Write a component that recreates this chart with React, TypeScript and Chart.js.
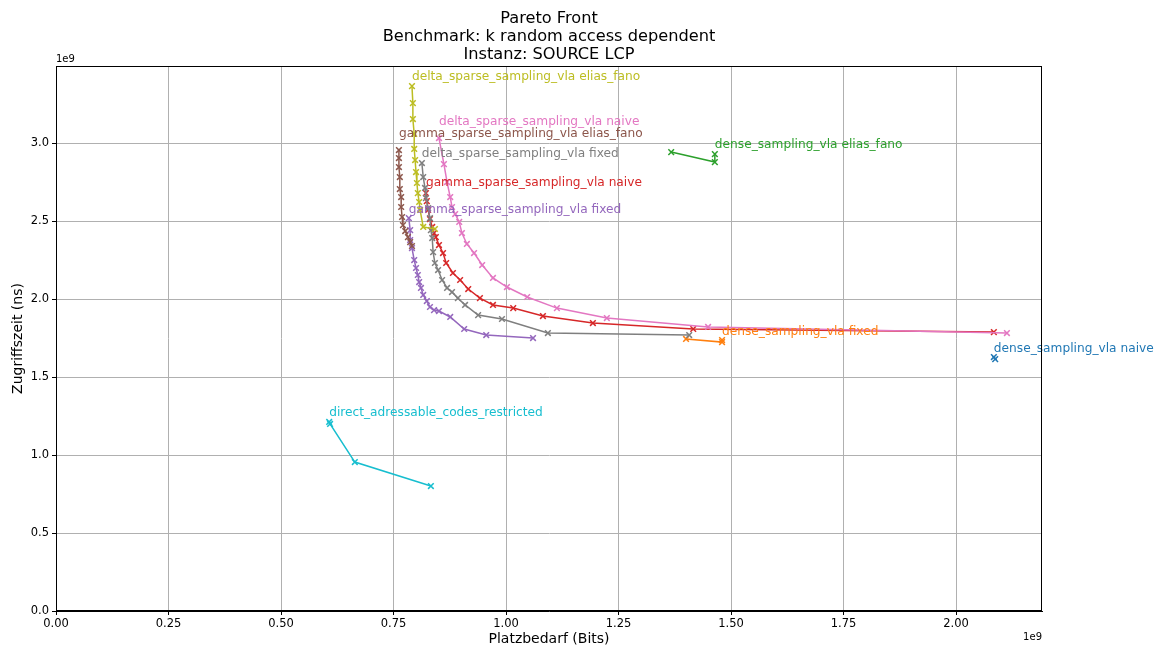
import React, { useEffect, useRef } from "react";
import { Chart, registerables } from "chart.js";

Chart.register(...registerables);

const FONT = "'DejaVu Sans', 'Liberation Sans', sans-serif";

// Series names (annotation labels) in plotting order
const seriesNames = [
  "dense_sampling_vla naive",
  "dense_sampling_vla fixed",
  "dense_sampling_vla elias_fano",
  "gamma_sparse_sampling_vla naive",
  "gamma_sparse_sampling_vla fixed",
  "gamma_sparse_sampling_vla elias_fano",
  "delta_sparse_sampling_vla naive",
  "delta_sparse_sampling_vla fixed",
  "delta_sparse_sampling_vla elias_fano",
  "direct_adressable_codes_restricted",
];

const seriesColors = [
  "#1f77b4", "#ff7f0e", "#2ca02c", "#d62728", "#9467bd",
  "#8c564b", "#e377c2", "#7f7f7f", "#bcbd22", "#17becf",
];

// Values in units of 1e9 (Platzbedarf in Bits, Zugriffszeit in ns)
const denseNaiveX = [2.084, 2.087];
const denseNaiveY = [1.628, 1.615];

const denseFixedX = [1.48, 1.48, 1.4];
const denseFixedY = [1.737, 1.724, 1.744];

const denseEliasX = [1.464, 1.464, 1.367];
const denseEliasY = [2.929, 2.878, 2.942];

const gammaNaiveX = [0.822, 0.824, 0.827, 0.831, 0.836, 0.84, 0.844, 0.851, 0.86, 0.867, 0.882, 0.898, 0.916, 0.942, 0.971, 1.016, 1.082, 1.193, 1.416, 2.084];
const gammaNaiveY = [2.679, 2.628, 2.571, 2.513, 2.462, 2.423, 2.397, 2.346, 2.295, 2.231, 2.167, 2.122, 2.064, 2.006, 1.962, 1.942, 1.891, 1.846, 1.808, 1.788];

const gammaFixedX = [0.784, 0.787, 0.787, 0.791, 0.796, 0.8, 0.804, 0.807, 0.811, 0.816, 0.824, 0.831, 0.84, 0.851, 0.876, 0.907, 0.956, 1.06];
const gammaFixedY = [2.519, 2.442, 2.378, 2.327, 2.25, 2.199, 2.154, 2.109, 2.071, 2.026, 1.987, 1.949, 1.929, 1.923, 1.885, 1.808, 1.769, 1.75];

const gammaEliasX = [0.762, 0.762, 0.762, 0.764, 0.764, 0.767, 0.767, 0.769, 0.771, 0.776, 0.782, 0.787, 0.791];
const gammaEliasY = [2.955, 2.904, 2.846, 2.782, 2.705, 2.654, 2.59, 2.526, 2.474, 2.436, 2.397, 2.365, 2.34];

const deltaNaiveX = [0.851, 0.862, 0.869, 0.876, 0.88, 0.887, 0.896, 0.902, 0.913, 0.929, 0.947, 0.971, 1.002, 1.047, 1.113, 1.224, 1.449, 2.113];
const deltaNaiveY = [3.032, 2.865, 2.75, 2.654, 2.59, 2.545, 2.494, 2.423, 2.353, 2.295, 2.218, 2.135, 2.077, 2.013, 1.942, 1.878, 1.821, 1.782];

const deltaFixedX = [0.813, 0.816, 0.82, 0.822, 0.827, 0.831, 0.833, 0.836, 0.838, 0.842, 0.849, 0.858, 0.869, 0.88, 0.893, 0.909, 0.938, 0.991, 1.093, 1.407];
const deltaFixedY = [2.872, 2.782, 2.712, 2.647, 2.583, 2.519, 2.442, 2.391, 2.301, 2.231, 2.186, 2.122, 2.071, 2.045, 2.006, 1.962, 1.897, 1.872, 1.782, 1.769];

const deltaEliasX = [0.791, 0.793, 0.793, 0.796, 0.796, 0.798, 0.8, 0.802, 0.804, 0.807, 0.809, 0.816, 0.842];
const deltaEliasY = [3.365, 3.256, 3.154, 3.058, 2.962, 2.891, 2.814, 2.744, 2.679, 2.622, 2.571, 2.462, 2.449];

const directX = [0.607, 0.609, 0.664, 0.833];
const directY = [1.212, 1.199, 0.955, 0.801];

const seriesX = [denseNaiveX, denseFixedX, denseEliasX, gammaNaiveX, gammaFixedX, gammaEliasX, deltaNaiveX, deltaFixedX, deltaEliasX, directX];
const seriesY = [denseNaiveY, denseFixedY, denseEliasY, gammaNaiveY, gammaFixedY, gammaEliasY, deltaNaiveY, deltaFixedY, deltaEliasY, directY];

const titleLines = ["Pareto Front", "Benchmark: k random access dependent", "Instanz: SOURCE LCP"];
const xTitle = "Platzbedarf (Bits)";
const yTitle = "Zugriffszeit (ns)";
const X_MAX = 2.191;
const Y_MAX = 3.494;

// pixel offsets of annotation baselines above their first point
const labelLift = [5, 5, 6, 7, 5, 13, 13, 6, 6, 6];

const overlayPlugin = {
  id: "overlay",
  afterDatasetsDraw(chart: any) {
    const ctx = chart.ctx;
    const area = chart.chartArea;
    ctx.save();
    // annotations
    ctx.font = `12.2px ${FONT}`;
    ctx.textAlign = "left";
    ctx.textBaseline = "alphabetic";
    chart.data.datasets.forEach((ds: any, i: number) => {
      const meta = chart.getDatasetMeta(i);
      const p = meta.data[0];
      if (!p) return;
      ctx.fillStyle = ds.borderColor;
      ctx.fillText(seriesNames[i], p.x, p.y - labelLift[i]);
    });
    // spines
    ctx.strokeStyle = "#000";
    ctx.lineWidth = 1;
    ctx.strokeRect(area.left + 0.5, area.top + 0.5, area.right - area.left - 1, area.bottom - area.top - 1);
    // title
    ctx.fillStyle = "#000";
    ctx.font = `16.2px ${FONT}`;
    ctx.textAlign = "center";
    ctx.textBaseline = "middle";
    const cx = (area.left + area.right) / 2;
    titleLines.forEach((t, k) => ctx.fillText(t, cx, 18.5 + k * 18));
    // offset texts
    ctx.font = `10px ${FONT}`;
    ctx.textAlign = "left";
    ctx.fillText("1e9", area.left, area.top - 6.5);
    ctx.textAlign = "right";
    ctx.fillText("1e9", area.right, area.bottom + 26);
    ctx.restore();
  },
};

export default function App() {
  const ref = useRef<HTMLCanvasElement | null>(null);
  useEffect(() => {
    if (!ref.current) return;
    const datasets = seriesNames.map((name, i) => ({
      label: name,
      data: seriesX[i].map((x, j) => ({ x, y: seriesY[i][j] })),
      showLine: true,
      borderColor: seriesColors[i],
      backgroundColor: seriesColors[i],
      pointBorderColor: seriesColors[i],
      borderWidth: 1.5,
      pointStyle: "crossRot",
      pointRadius: 4,
      pointBorderWidth: 1.5,
      tension: 0,
      order: seriesNames.length - i,
    }));
    const chart = new Chart(ref.current, {
      type: "scatter",
      data: { datasets },
      options: {
        responsive: false,
        animation: false,
        layout: { padding: { top: 66, right: 120, left: 0, bottom: 0 } },
        plugins: {
          legend: { display: false },
          tooltip: { enabled: false },
          title: { display: false },
        },
        scales: {
          x: {
            type: "linear",
            min: 0,
            max: X_MAX,
            afterFit: (s: any) => { s.height = 39; },
            border: { display: true, color: "#000", width: 1 },
            grid: { color: "#b0b0b0", lineWidth: 1, tickColor: "#000", tickLength: 4 },
            ticks: {
              stepSize: 0.25,
              includeBounds: false,
              autoSkip: false,
              maxRotation: 0,
              color: "#000",
              font: { family: FONT, size: 11.5 },
              padding: 2,
              callback: (v: any) => Number(v).toFixed(2),
            },
            title: { display: true, text: xTitle, color: "#000", font: { family: FONT, size: 14 }, padding: { top: 2, bottom: 2 } },
          },
          y: {
            type: "linear",
            min: 0,
            max: Y_MAX,
            afterFit: (s: any) => { s.width = 56; },
            border: { display: true, color: "#000", width: 1 },
            grid: { color: "#b0b0b0", lineWidth: 1, tickColor: "#000", tickLength: 4 },
            ticks: {
              stepSize: 0.5,
              includeBounds: false,
              autoSkip: false,
              color: "#000",
              font: { family: FONT, size: 11.5 },
              padding: 3,
              callback: (v: any) => Number(v).toFixed(1),
            },
            title: { display: true, text: yTitle, color: "#000", font: { family: FONT, size: 14 }, padding: { top: 9.5, bottom: 2 } },
          },
        },
      },
      plugins: [overlayPlugin],
    } as any);
    return () => chart.destroy();
  }, []);
  return (
    <div style={{ position: "fixed", left: 0, top: 0, width: 1162, height: 650, background: "#fff" }}>
      <canvas ref={ref} width={1162} height={650} style={{ width: 1162, height: 650, display: "block" }} />
    </div>
  );
}
